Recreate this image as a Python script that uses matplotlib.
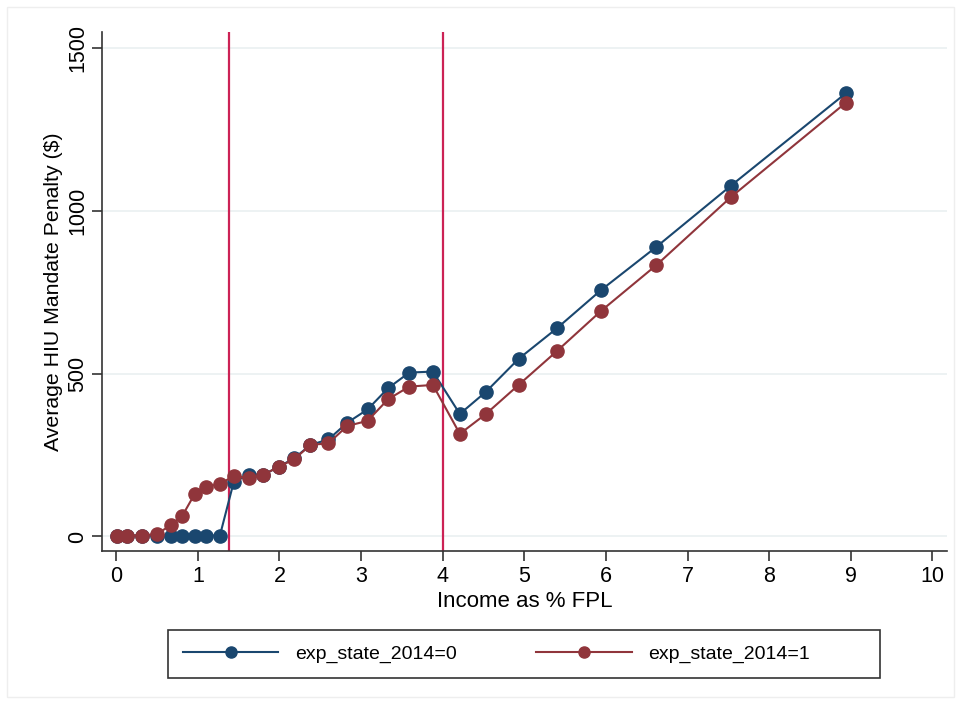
import matplotlib
matplotlib.use("Agg")
import matplotlib.pyplot as plt
from matplotlib.lines import Line2D

plt.rcParams['font.family'] = ['Liberation Sans', 'DejaVu Sans']

# income bins (as multiple of FPL)
income = [0.01, 0.13, 0.31, 0.50, 0.67, 0.81, 0.96, 1.10, 1.27, 1.44,
          1.63, 1.80, 1.99, 2.18, 2.38, 2.60, 2.83, 3.08, 3.33, 3.59,
          3.88, 4.21, 4.53, 4.93, 5.40, 5.94, 6.62, 7.53, 8.94]

# average penalty, non-expansion states
penalty_0 = [3, 3, 3, 3, 3, 3, 3, 3, 3, 168,
             189, 189, 214, 240, 281, 298, 349, 390, 455, 503,
             506, 376, 444, 545, 639, 756, 889, 1076, 1360]

# average penalty, expansion states
penalty_1 = [3, 3, 3, 8, 35, 64, 130, 153, 161, 186,
             179, 189, 214, 237, 281, 286, 339, 355, 421, 460,
             465, 315, 376, 465, 569, 692, 833, 1041, 1331]

cutoffs = [1.38, 4.0]
xticks = list(range(0, 11))
yticks = [0, 500, 1000, 1500]

BLUE = '#1a476f'
RED = '#90353b'
VLINE = '#cc2255'
GRID = '#eaf0f1'


def main():
    fig = plt.figure(figsize=(9.61, 7.04), dpi=100)
    ax = fig.add_axes([102 / 961, 1 - 551 / 704, 845 / 961, 519 / 704])

    for y in yticks:
        ax.axhline(y, color=GRID, lw=1.2, zorder=0)

    for c in cutoffs:
        ax.axvline(c, color=VLINE, lw=1.6, zorder=1)

    ax.plot(income, penalty_0, color=BLUE, lw=1.5, marker='o', ms=9.5,
            zorder=3)
    ax.plot(income, penalty_1, color=RED, lw=1.5, marker='o', ms=9.5,
            zorder=4)

    ax.set_xlim(-0.175, 10.18)
    ax.set_ylim(-44.5, 1548)
    ax.set_xticks(xticks)
    ax.set_yticks(yticks)
    ax.tick_params(axis='both', direction='out', length=7, width=1.2,
                   labelsize=15.5, color='#333333')
    ax.tick_params(axis='x', pad=4)
    ax.tick_params(axis='y', pad=3)
    for lab in ax.get_yticklabels():
        lab.set_rotation(90)
        lab.set_va('center')

    for side in ['top', 'right']:
        ax.spines[side].set_visible(False)
    for side in ['left', 'bottom']:
        ax.spines[side].set_linewidth(1.2)
        ax.spines[side].set_color('#333333')

    ax.set_xlabel('Income as % FPL', fontsize=16, labelpad=3)
    ax.set_ylabel('Average HIU Mandate Penalty ($)', fontsize=15.3,
                  labelpad=3)

    handles = [Line2D([], [], color=BLUE, lw=1.5, marker='o', ms=8),
               Line2D([], [], color=RED, lw=1.5, marker='o', ms=8)]
    labels = ['exp_state_2014=0', 'exp_state_2014=1']
    fig.legend(handles, labels, loc='center left', ncol=2,
               bbox_to_anchor=(183 / 961, 1 - 654 / 704),
               fontsize=14, handlelength=4.9, handletextpad=0.85,
               columnspacing=4.1, borderpad=0, borderaxespad=0,
               frameon=False)
    # legend box
    fig.patches.append(plt.Rectangle((168 / 961, 1 - 678 / 704), 712 / 961,
                                     48 / 704, transform=fig.transFigure,
                                     fill=False, edgecolor='#333333',
                                     lw=1.2))

    # faint outer border of graph region
    fig.patches.append(plt.Rectangle((7 / 961, 7 / 704), 947 / 961,
                                     690 / 704, transform=fig.transFigure,
                                     fill=False, edgecolor='#eeeeee', lw=1))

    fig.savefig('out.png', dpi=100)
    plt.close(fig)


if __name__ == "__main__":
    main()
